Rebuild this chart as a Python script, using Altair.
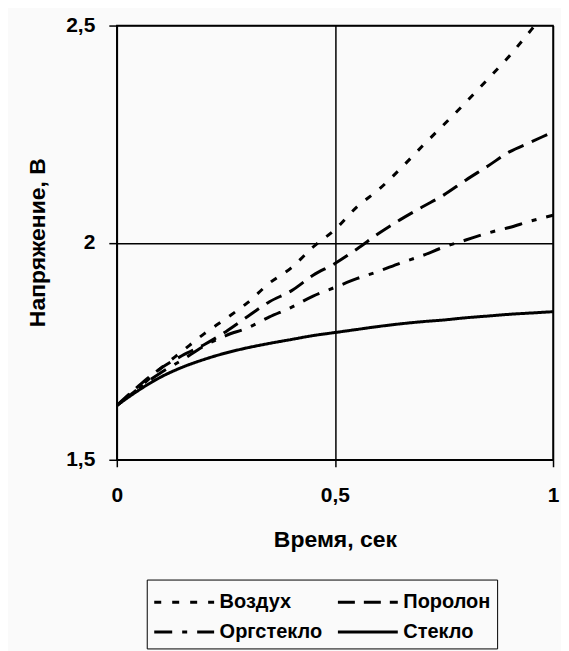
import altair as alt
import pandas as pd

# Time, s
t_values = [0, 0.05, 0.1, 0.15, 0.2, 0.25, 0.3, 0.35, 0.4, 0.45, 0.5,
            0.55, 0.6, 0.65, 0.7, 0.75, 0.8, 0.85, 0.9, 0.95, 1.0]

# Voltage, V
vozdukh = [1.625, 1.665, 1.71, 1.75, 1.79, 1.825, 1.862, 1.907, 1.942, 1.99, 2.03,
           2.082, 2.122, 2.17, 2.222, 2.272, 2.323, 2.376, 2.43, 2.49, 2.55]
porolon = [1.625, 1.67, 1.71, 1.74, 1.765, 1.795, 1.83, 1.864, 1.889, 1.925, 1.952,
           1.985, 2.021, 2.053, 2.082, 2.11, 2.144, 2.176, 2.209, 2.232, 2.255]
orgsteklo = [1.625, 1.665, 1.70, 1.73, 1.762, 1.786, 1.804, 1.829, 1.851, 1.877, 1.897,
             1.917, 1.934, 1.953, 1.97, 1.99, 2.006, 2.022, 2.035, 2.05, 2.063]
steklo = [1.625, 1.66, 1.69, 1.713, 1.731, 1.746, 1.758, 1.768, 1.777, 1.786, 1.793,
          1.80, 1.807, 1.813, 1.818, 1.822, 1.827, 1.831, 1.835, 1.838, 1.841]

series_names = ["Воздух", "Поролон", "Оргстекло", "Стекло"]
series_values = [vozdukh, porolon, orgsteklo, steklo]
dash_patterns = [[7, 11], [17, 9], [18, 10, 5, 10], [1, 0]]

x_ticks = [0, 0.5, 1]
y_ticks = [1.5, 2, 2.5]

rows = []
for name, vals in zip(series_names, series_values):
    for t, v in zip(t_values, vals):
        rows.append({"t": t, "v": v, "series": name})
df = pd.DataFrame(rows)

FONT = "Liberation Sans"
comma_expr = "replace(toString(datum.value), '.', ',')"

chart = alt.Chart(df).mark_line(
    color="black", strokeWidth=3, clip=True, interpolate="monotone"
).encode(
    x=alt.X("t:Q",
            scale=alt.Scale(domain=[0, 1], nice=False),
            axis=alt.Axis(values=x_ticks, title="Время, сек", labelExpr=comma_expr,
                          labelFlush=False,
                          tickSize=7, tickColor="black", tickWidth=1.5,
                          domainColor="black", domainWidth=1.5,
                          gridColor="black", gridWidth=1.5, gridOpacity=1,
                          labelFont=FONT, labelFontSize=21, labelFontWeight="bold",
                          labelColor="black", labelPadding=18,
                          titleFont=FONT, titleFontSize=23, titleFontWeight="bold",
                          titleColor="black", titleY=87, titleBaseline="alphabetic")),
    y=alt.Y("v:Q",
            scale=alt.Scale(domain=[1.5, 2.5], nice=False, zero=False),
            axis=alt.Axis(values=y_ticks, title="Напряжение, В", labelExpr=comma_expr,
                          labelFlush=False,
                          tickSize=8, tickColor="black", tickWidth=1.5,
                          domainColor="black", domainWidth=1.5,
                          gridColor="black", gridWidth=1.5, gridOpacity=1,
                          labelFont=FONT, labelFontSize=21, labelFontWeight="bold",
                          labelColor="black", labelPadding=14,
                          titleFont=FONT, titleFontSize=23, titleFontWeight="bold",
                          titleColor="black", titleX=-79, titleY=217,
                          titleBaseline="middle")),
    strokeDash=alt.StrokeDash(
        "series:N",
        scale=alt.Scale(domain=series_names, range=dash_patterns),
        legend=alt.Legend(
            title=None, orient="none", legendX=30, legendY=555,
            direction="horizontal", columns=2,
            symbolType="M-1,0H3", symbolSize=900, symbolStrokeWidth=3,
            symbolStrokeColor="black",
            labelFont=FONT, labelFontSize=20, labelFontWeight="bold",
            labelColor="black", labelOffset=34, labelLimit=300,
            strokeColor="black", padding=6, rowPadding=3, columnPadding=9,
        ),
    ),
).properties(
    width=437, height=435,
    background="#fafafa",
    padding={"left": 109, "top": 17, "right": 8, "bottom": 191},
    autosize=alt.AutoSizeParams(type="none"),
).configure_view(stroke="black", strokeWidth=1.5)

chart.save("out.html", embed_options={"renderer": "svg", "actions": False})
